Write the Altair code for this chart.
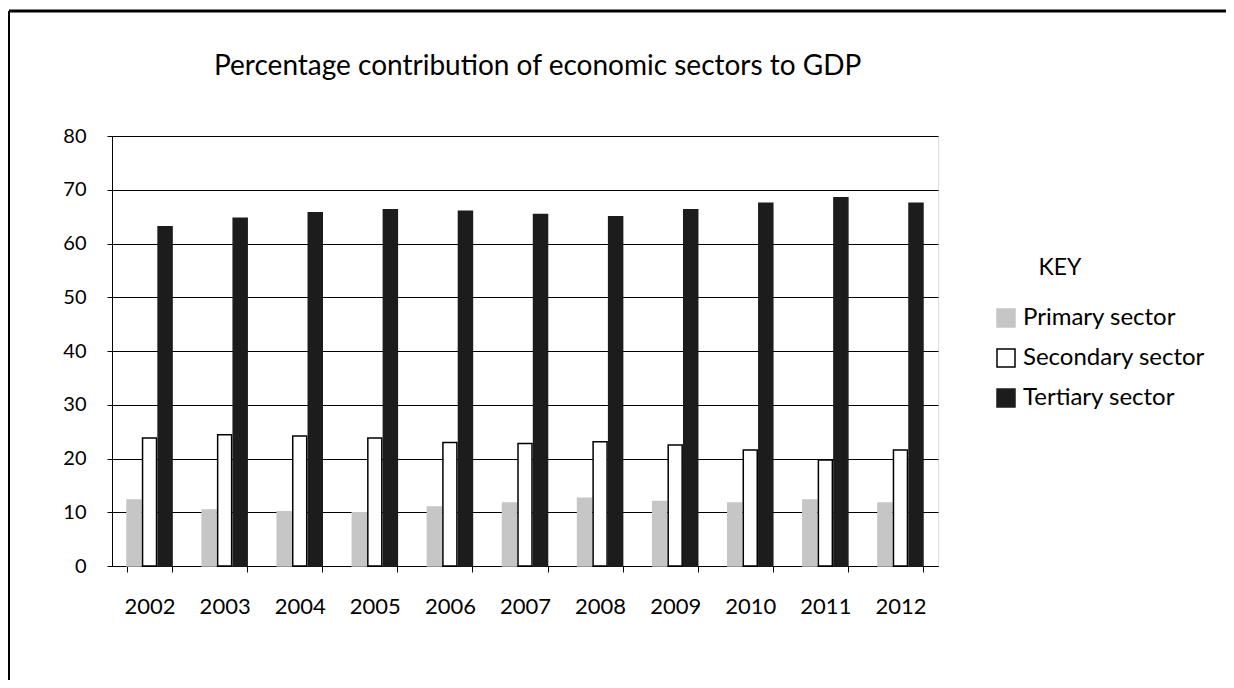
import altair as alt
import pandas as pd

years = ["2002", "2003", "2004", "2005", "2006", "2007", "2008", "2009", "2010", "2011", "2012"]
primary = [12.3, 10.4, 10.1, 9.9, 11.0, 11.7, 12.6, 12.0, 11.7, 12.3, 11.7]
secondary = [23.8, 24.4, 24.2, 23.8, 23.0, 22.8, 23.1, 22.5, 21.6, 19.7, 21.6]
tertiary = [63.1, 64.7, 65.7, 66.3, 66.0, 65.4, 65.0, 66.3, 67.5, 68.5, 67.5]
sectors = ["Primary sector", "Secondary sector", "Tertiary sector"]
fills = ["#c6c6c6", "#ffffff", "#1c1c1c"]
strokes = ["#c6c6c6", "#000000", "#1c1c1c"]
legend_title = ["KEY"]
chart_title = ["Percentage contribution of economic sectors to GDP"]

rows = []
for i, yr in enumerate(years):
    for s, vals in zip(sectors, [primary, secondary, tertiary]):
        rows.append({"Year": yr, "Sector": s, "Value": vals[i]})
df = pd.DataFrame(rows)

FONT = "Lato"

legend_cfg = dict(title=None, orient="none", legendX=882, legendY=170,
                  symbolType="square", symbolSize=324, symbolStrokeWidth=1.5,
                  labelFontSize=24, labelFont=FONT, labelColor="black",
                  labelOffset=5, rowPadding=16, labelLimit=400)

bars = alt.Chart(df).mark_bar(strokeWidth=1.5).encode(
    x=alt.X("Year:N", sort=years,
            scale=alt.Scale(paddingInner=0.4, paddingOuter=0.2),
            axis=alt.Axis(title=None, labelAngle=0, tickBand="extent", tickSize=6,
                          labelPadding=24, labelFontSize=22, labelFont=FONT,
                          labelColor="black", domainColor="black", tickColor="black")),
    xOffset=alt.XOffset("Sector:N", sort=sectors, scale=alt.Scale(paddingInner=0.1)),
    y=alt.Y("Value:Q", scale=alt.Scale(domain=[0, 80]),
            axis=alt.Axis(title=None, values=list(range(0, 81, 10)), tickSize=5,
                          labelPadding=21, labelFontSize=20, labelFont=FONT,
                          labelColor="black", domainColor="black", tickColor="black",
                          gridColor="black", gridWidth=1, gridOpacity=1)),
    fill=alt.Fill("Sector:N", scale=alt.Scale(domain=sectors, range=fills),
                  legend=alt.Legend(**legend_cfg)),
    stroke=alt.Stroke("Sector:N", scale=alt.Scale(domain=sectors, range=strokes),
                      legend=alt.Legend(**legend_cfg)),
)

key = alt.Chart(pd.DataFrame({"t": legend_title})).mark_text(
    fontSize=23, font=FONT, color="black", align="center", baseline="middle"
).encode(text="t:N", x=alt.value(948), y=alt.value(132))

title = alt.Chart(pd.DataFrame({"t": chart_title})).mark_text(
    fontSize=28, font=FONT, color="black", align="left", baseline="alphabetic"
).encode(text="t:N", x=alt.value(102), y=alt.value(-61))

frame_top = alt.Chart(pd.DataFrame({"f": [0]})).mark_rule(color="black", strokeWidth=3).encode(
    x=alt.value(-103), x2=alt.value(1122), y=alt.value(-125))
frame_left = alt.Chart(pd.DataFrame({"f": [0]})).mark_rule(color="black", strokeWidth=2).encode(
    x=alt.value(-103), y=alt.value(-125), y2=alt.value(560))

chart = alt.layer(bars, key, title, frame_top, frame_left).properties(
    width=826,
    height=430,
    autosize=alt.AutoSizeParams(type="none"),
    padding={"left": 104, "top": 128, "right": 288, "bottom": 114},
).configure_view(stroke="black", strokeWidth=1).configure(background="white")

chart.save("out.html", embed_options={"renderer": "svg", "actions": False})
